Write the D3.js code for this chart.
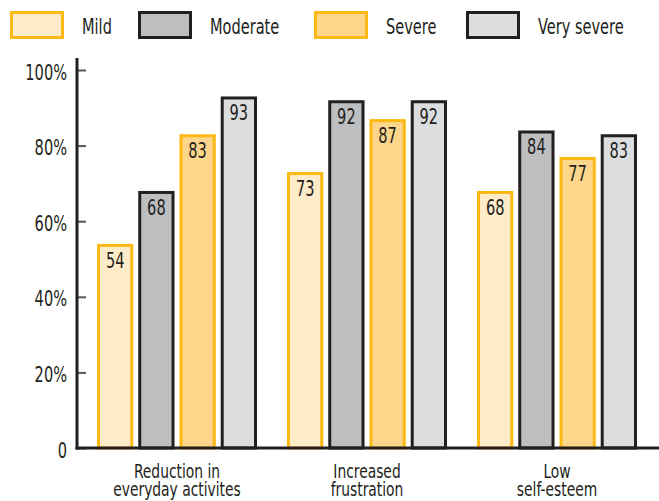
<!DOCTYPE html>
<html>
<head>
<meta charset="utf-8">
<script src="https://cdn.jsdelivr.net/npm/d3@7"></script>
<style>
  html, body { margin: 0; padding: 0; background: #fff; }
  svg { display: block; }
  text { font-family: "DejaVu Sans Condensed", "DejaVu Sans", sans-serif; font-stretch: condensed; fill: #231f20; }
</style>
</head>
<body>
<svg id="chart" width="659" height="501"></svg>
<script>
// Share of respondents reporting each impact, by severity level
const categories = [["Reduction in", "everyday activites"], ["Increased", "frustration"], ["Low", "self-esteem"]];
const series = ["Mild", "Moderate", "Severe", "Very severe"];
const mild = [54, 73, 68];
const moderate = [68, 92, 84];
const severe = [83, 87, 77];
const verySevere = [93, 92, 83];
const yTicks = [0, 20, 40, 60, 80, 100];

const seriesValues = [mild, moderate, severe, verySevere];
const fills = ["#feebc8", "#bcbec0", "#fdd68b", "#dcddde"];
const strokes = ["#fdb913", "#231f20", "#fdb913", "#231f20"];

const svg = d3.select("#chart");
const W = 659;
const axisX = 77, baseY = 448, topY = 70;
const SQ = 0.79; // horizontal squeeze for a narrow typeface look

// place a text at (x, y), narrowed horizontally
function placeText(sel, x, y) {
  sel.attr("transform", (d, i) => {
    const px = typeof x === "function" ? x(d, i) : x;
    const py = typeof y === "function" ? y(d, i) : y;
    return `translate(${px},${py}) scale(${SQ},1)`;
  });
}

const catKeys = categories.map(c => c.join(" "));
const x0 = d3.scaleBand().domain(catKeys).range([82, 652]).padding(0);
const groupW = 160;
const x1 = d3.scaleBand().domain(series).range([0, groupW]).paddingInner(0.12).paddingOuter(0);
const y = d3.scaleLinear().domain([0, 100]).range([baseY, topY]);

// Bars with value labels
const groups = svg.selectAll("g.cat")
  .data(catKeys)
  .join("g")
  .attr("class", "cat")
  .attr("transform", d => `translate(${x0(d) + (x0.bandwidth() - groupW) / 2},0)`);

groups.each(function (cat, ci) {
  const g = d3.select(this);
  series.forEach((s, si) => {
    const v = seriesValues[si][ci];
    const bx = x1(s), bw = x1.bandwidth();
    g.append("rect")
      .attr("x", bx + 1.5)
      .attr("y", y(v) + 1.5)
      .attr("width", bw - 3)
      .attr("height", baseY - y(v) - 1.5)
      .attr("fill", fills[si])
      .attr("stroke", strokes[si])
      .attr("stroke-width", 3);
    g.append("text")
      .attr("text-anchor", "middle")
      .attr("font-size", 20.5)
      .text(v)
      .call(placeText, bx + bw / 2, y(v) + 24);
  });
});

// Y axis: ticks point into the plot
const yAxis = d3.axisRight(y).tickValues(yTicks).tickSize(9).tickFormat("");
const ya = svg.append("g").attr("transform", `translate(${axisX},0)`).call(yAxis);
ya.select(".domain").remove();
ya.selectAll(".tick line").attr("stroke", "#58595b").attr("stroke-width", 2);
svg.append("line")
  .attr("x1", axisX).attr("x2", axisX)
  .attr("y1", 58).attr("y2", baseY + 1.5)
  .attr("stroke", "#231f20").attr("stroke-width", 3);
svg.selectAll("text.ylab")
  .data(yTicks)
  .join("text")
  .attr("class", "ylab")
  .attr("text-anchor", "end")
  .attr("font-size", 20.5)
  .text(d => d === 0 ? "0" : d + "%")
  .call(placeText, 67, d => y(d) + 9.5);

// Baseline
svg.append("line")
  .attr("x1", axisX - 1.5).attr("x2", W)
  .attr("y1", baseY).attr("y2", baseY)
  .attr("stroke", "#231f20").attr("stroke-width", 3);

// Category labels (two lines each)
svg.selectAll("text.catlab")
  .data(categories)
  .join("text")
  .attr("class", "catlab")
  .attr("text-anchor", "middle")
  .attr("font-size", 19.5)
  .call(placeText, (d, i) => x0(catKeys[i]) + x0.bandwidth() / 2, 478)
  .each(function (d) {
    d3.select(this).selectAll("tspan")
      .data(d)
      .join("tspan")
      .attr("x", 0)
      .attr("y", (t, j) => j * 17.5)
      .text(t => t);
  });

// Legend
const legendBoxX = [10, 138, 314, 466];
const legend = svg.selectAll("g.leg")
  .data(series)
  .join("g")
  .attr("class", "leg")
  .attr("transform", (d, i) => `translate(${legendBoxX[i]},11)`);
legend.append("rect")
  .attr("x", 1.5).attr("y", 1.5)
  .attr("width", 51).attr("height", 25)
  .attr("fill", (d, i) => fills[i])
  .attr("stroke", (d, i) => strokes[i])
  .attr("stroke-width", 3);
legend.append("text")
  .attr("font-size", 20.5)
  .text(d => d)
  .call(placeText, 72, 23);
</script>
</body>
</html>
